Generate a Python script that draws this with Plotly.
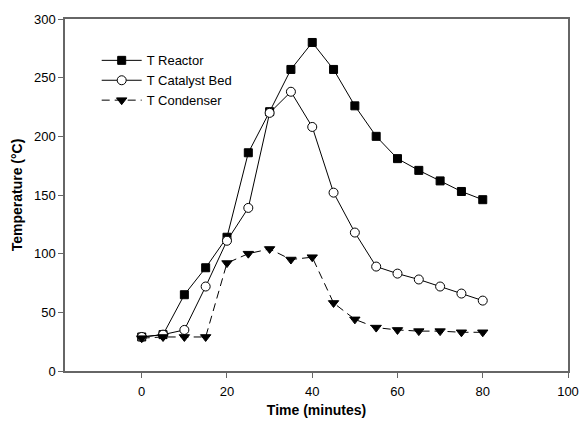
import plotly.graph_objects as go

time = [0, 5, 10, 15, 20, 25, 30, 35, 40, 45, 50, 55, 60, 65, 70, 75, 80]
t_reactor = [29, 31, 65, 88, 114, 186, 221, 257, 280, 257, 226, 200, 181, 171, 162, 153, 146]
t_catalyst = [29, 31, 35, 72, 111, 139, 220, 238, 208, 152, 118, 89, 83, 78, 72, 66, 60]
t_condenser = [28, 29, 29, 29, 92, 100, 104, 95, 97, 58, 44, 37, 35, 34, 34, 33, 33]

x_ticks = [0, 20, 40, 60, 80, 100]
y_ticks = [0, 50, 100, 150, 200, 250, 300]

fig = go.Figure()
fig.add_trace(go.Scatter(
    x=time, y=t_reactor, name="T Reactor", mode="lines+markers",
    line=dict(color="black", width=1),
    marker=dict(symbol="square", size=8, color="black", line=dict(color="black", width=1)),
))
fig.add_trace(go.Scatter(
    x=time, y=t_catalyst, name="T Catalyst Bed", mode="lines+markers",
    line=dict(color="black", width=1),
    marker=dict(symbol="circle", size=9, color="white", line=dict(color="black", width=1)),
))
fig.add_trace(go.Scatter(
    x=time, y=t_condenser, name="T Condenser", mode="lines+markers",
    line=dict(color="black", width=1, dash="8px,5px"),
    marker=dict(symbol="triangle-down", size=9, color="black", line=dict(color="black", width=1)),
))

axis_common = dict(
    showgrid=False, zeroline=False, showline=True, mirror=True, automargin=False,
    linecolor="#666666", linewidth=1.5, ticks="outside", ticklen=5,
    tickcolor="#666666", tickwidth=1,
    tickfont=dict(family="Arial, Liberation Sans", size=13, color="black"),
)

fig.update_xaxes(range=[-18, 100], tickvals=x_ticks, ticklabelstandoff=3,
                 title=dict(text="<b>Time (minutes)</b>", font=dict(family="Arial, Liberation Sans", size=14, color="black"), standoff=7),
                 **axis_common)
fig.update_yaxes(range=[0, 300], tickvals=y_ticks,
                 title=dict(text="<b>Temperature (°C)</b>", font=dict(family="Arial, Liberation Sans", size=14, color="black"), standoff=8),
                 **axis_common)

fig.update_layout(
    width=583, height=421,
    margin=dict(l=65, r=15, t=19, b=50),
    plot_bgcolor="white", paper_bgcolor="white",
    legend=dict(x=0.063, y=0.925, xanchor="left", yanchor="top",
                bgcolor="rgba(0,0,0,0)", tracegroupgap=0, itemwidth=40,
                font=dict(family="Arial, Liberation Sans", size=13, color="black")),
)

fig.write_html("out.html")
